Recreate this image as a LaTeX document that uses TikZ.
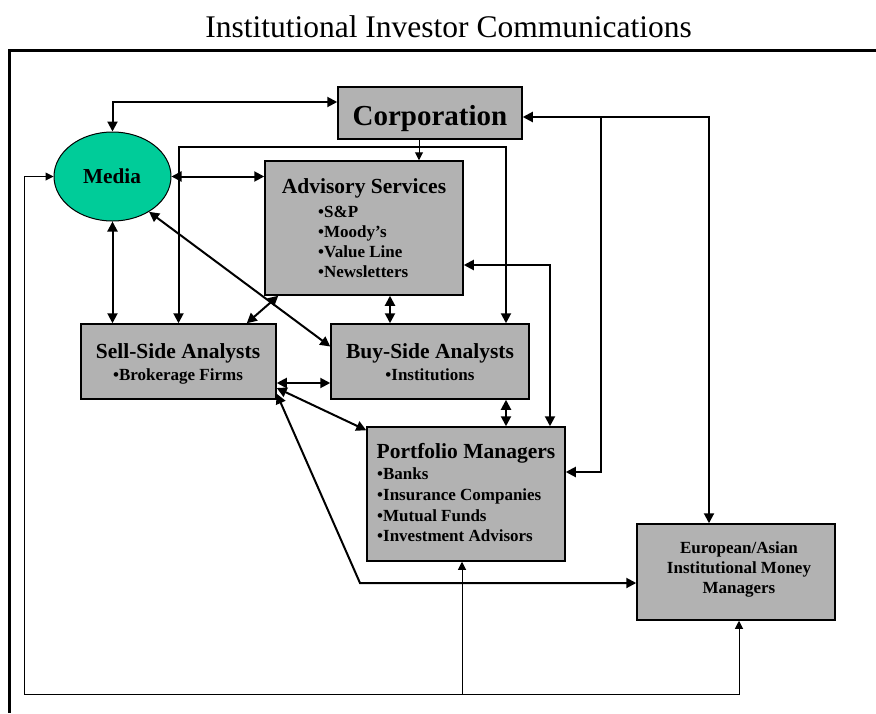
\documentclass[tikz,border=0pt]{standalone}
\usepackage{fontspec}
\setmainfont{Liberation Serif}
\usetikzlibrary{arrows.meta,shapes.geometric}
\definecolor{mediagreen}{RGB}{0,204,153}
\definecolor{boxgray}{RGB}{178,178,178}
\begin{document}
\begin{tikzpicture}[x=1pt,y=-1pt,
  boxstyle/.style={draw=black,line width=1.5pt,fill=boxgray,rectangle,inner sep=0pt},
  titletext/.style={font=\fontsize{21.5}{24}\selectfont\bfseries,inner sep=0pt},
  itemtext/.style={font=\fontsize{17}{20}\selectfont\bfseries,inner sep=0pt,anchor=base west},
  bigarrow/.style={line width=2pt,{Triangle[length=10pt,width=10pt]}-{Triangle[length=10pt,width=10pt]}},
  bigone/.style={line width=2pt,-{Triangle[length=10pt,width=10pt]}},
  thinone/.style={line width=1pt,-{Triangle[length=8pt,width=8pt]}},
  thinboth/.style={line width=1pt,{Triangle[length=8pt,width=8pt]}-{Triangle[length=8pt,width=8pt]}}
]
\useasboundingbox (0,0) rectangle (876,713);

% frame and title
\coordinate (fr1) at (876,50);
\coordinate (fr2) at (9,50);
\coordinate (fr3) at (9,713);
\draw[line width=3pt] (fr1) -- (fr2) -- (fr3);
\node[anchor=base,inner sep=0pt,font=\fontsize{31.5}{34}\selectfont] (title) at (448.5,37) {Institutional Investor Communications};

% boxes
\node[boxstyle,minimum width=184pt,minimum height=52pt] (corp) at (430,113) {};
\node[draw=black,line width=1pt,fill=mediagreen,ellipse,minimum width=117pt,minimum height=89pt,inner sep=0pt] (media) at (112.5,176.5) {};
\node[boxstyle,minimum width=198pt,minimum height=134pt] (adv) at (364,228) {};
\node[boxstyle,minimum width=195pt,minimum height=75pt] (sell) at (178.5,361.5) {};
\node[boxstyle,minimum width=198pt,minimum height=75pt] (buy) at (430,361.5) {};
\node[boxstyle,minimum width=198pt,minimum height=134pt] (port) at (466,494) {};
\node[boxstyle,minimum width=198pt,minimum height=96pt] (euro) at (736,572) {};

% texts
\node[anchor=base,inner sep=0pt,font=\fontsize{29}{32}\selectfont\bfseries] (corpT) at (430,125) {Corporation};
\node[anchor=base,inner sep=0pt,font=\fontsize{21.3}{24}\selectfont\bfseries] (mediaT) at (112,183) {Media};

\node[titletext,anchor=base] (advT) at (364,193) {Advisory Services};
\node[itemtext] (advI1) at (318,217) {•S\&P};
\node[itemtext] (advI2) at (318,237) {•Moody’s};
\node[itemtext] (advI3) at (318,257) {•Value Line};
\node[itemtext] (advI4) at (318,277) {•Newsletters};

\node[titletext,anchor=base] (sellT) at (178,358) {Sell-Side Analysts};
\node[itemtext,anchor=base] (sellI) at (178,380) {•Brokerage Firms};

\node[titletext,anchor=base] (buyT) at (430,358) {Buy-Side Analysts};
\node[itemtext,anchor=base] (buyI) at (430,380) {•Institutions};

\node[titletext,anchor=base] (portT) at (466,458) {Portfolio Managers};
\node[itemtext] (portI1) at (377,479) {•Banks};
\node[itemtext] (portI2) at (377,500) {•Insurance Companies};
\node[itemtext] (portI3) at (377,521) {•Mutual Funds};
\node[itemtext] (portI4) at (377,541) {•Investment Advisors};

\node[itemtext,anchor=base] (euroT1) at (739,553) {European/Asian};
\node[itemtext,anchor=base] (euroT2) at (739,573) {Institutional Money};
\node[itemtext,anchor=base] (euroT3) at (739,593) {Managers};

% connectors
\coordinate (j1) at (601,117);
\coordinate (j2) at (709,117);
\coordinate (b2) at (506,147);
\coordinate (k) at (360,583);
\coordinate (L2) at (24,694);

% Corporation <-> Media
\draw[bigarrow] ([yshift=11pt]corp.west) -| (media.north);
% Corporation <-> European, and to Portfolio
\draw[bigarrow] ([yshift=-4pt]corp.east) -| (j2 |- euro.north);
\draw[bigone] (j1) |- ([yshift=22pt]port.east);
% Corporation -> Advisory (thin)
\draw[thinone] ([xshift=-11pt]corp.south) -- ([xshift=-11pt]corp.south |- adv.north);
% bus to sell-side and buy-side
\draw[bigarrow] (sell.north) |- (b2) -- (b2 |- buy.north);
% Media <-> Advisory
\draw[bigarrow] (media.east) -- (media.east -| adv.west);
% Media <-> Sell-side
\draw[bigarrow] (media.south) -- (media.south |- sell.north);
% Media <-> Buy-side
\draw[bigarrow] (media.-44) -- ([yshift=15pt]buy.west);
% Advisory <-> Sell-side
\draw[bigarrow] ([xshift=14pt]adv.south west) -- ([xshift=-30pt]sell.north east);
% Advisory <-> Buy-side
\draw[bigarrow] ([xshift=26pt]adv.south) -- ([xshift=26pt]adv.south |- buy.north);
% Advisory <-> Portfolio
\draw[bigarrow] ([yshift=-37pt]adv.east) -| ([xshift=84pt]port.north);
% Buy-side <-> Portfolio
\draw[bigarrow] ([xshift=76pt]buy.south) -- ([xshift=76pt]buy.south |- port.north);
% Sell-side <-> Buy-side
\draw[bigarrow] ([yshift=-21.5pt]sell.east) -- ([yshift=-21.5pt]sell.east -| buy.west);
% Sell-side <-> Portfolio
\draw[bigarrow] ([yshift=-26.5pt]sell.east) -- ([yshift=-4pt]port.north west);
% Sell-side <-> European
\draw[bigarrow] ([yshift=6pt]sell.south east) -- (k) -- (k -| euro.west);
% thin feedback loop
\draw[thinboth] (media.west) -| (L2) -| ([xshift=3pt]euro.south);
\draw[thinone] ([xshift=-4pt]port.south |- L2) -- ([xshift=-4pt]port.south);
\end{tikzpicture}
\end{document}
